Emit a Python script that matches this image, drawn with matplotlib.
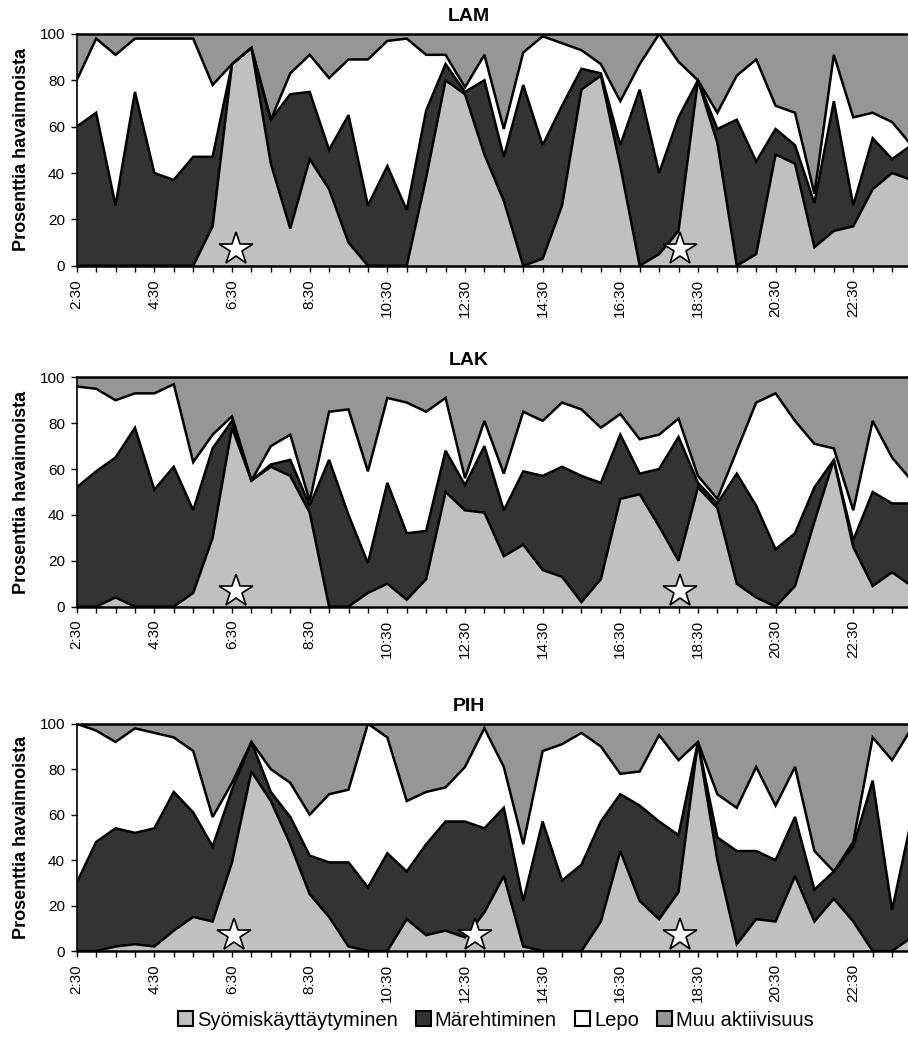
import numpy as np
import matplotlib.pyplot as plt
from matplotlib.patches import Patch

plt.rcParams['font.family'] = ['Liberation Sans', 'DejaVu Sans']

# -- data --
# half-hour categories, the last one is only partly visible at the right edge
times = ["2:30", "3:00", "3:30", "4:00", "4:30", "5:00", "5:30", "6:00",
         "6:30", "7:00", "7:30", "8:00", "8:30", "9:00", "9:30", "10:00",
         "10:30", "11:00", "11:30", "12:00", "12:30", "13:00", "13:30", "14:00",
         "14:30", "15:00", "15:30", "16:00", "16:30", "17:00", "17:30", "18:00",
         "18:30", "19:00", "19:30", "20:00", "20:30", "21:00", "21:30", "22:00",
         "22:30", "23:00", "23:30", "24:00"]

series_names = ["Syömiskäyttäytyminen", "Märehtiminen", "Lepo", "Muu aktiivisuus"]

# cumulative upper edges (%): syo, syo+mar, syo+mar+lepo ; muu fills up to 100
lam_syo = [0, 0, 0, 0, 0, 0, 0, 17, 87, 94, 44, 16, 46, 33, 10, 0, 0, 0, 38, 80,
           74, 48, 28, 0, 3, 26, 76, 82, 43, 0, 5, 15, 80, 53, 0, 5, 48, 44, 8, 15,
           17, 33, 40, 37]
lam_mar = [60, 66, 26, 75, 40, 37, 47, 47, 87, 94, 63, 74, 75, 50, 65, 26, 43, 24, 67, 87,
           75, 80, 47, 78, 52, 69, 85, 83, 52, 76, 40, 64, 80, 59, 63, 45, 59, 52, 27, 71,
           26, 55, 46, 52]
lam_lepo = [80, 98, 91, 98, 98, 98, 98, 78, 87, 94, 63, 83, 91, 81, 89, 89, 97, 98, 91, 91,
            77, 91, 59, 92, 99, 96, 93, 87, 71, 87, 100, 88, 80, 66, 82, 89, 69, 66, 31, 91,
            64, 66, 62, 52]

lak_syo = [0, 0, 4, 0, 0, 0, 6, 30, 78, 55, 61, 57, 41, 0, 0, 6, 10, 3, 12, 50,
           42, 41, 22, 27, 16, 13, 2, 12, 47, 49, 35, 20, 52, 43, 10, 4, 0, 9, 37, 64,
           26, 9, 15, 9]
lak_mar = [52, 59, 65, 78, 51, 61, 42, 69, 81, 55, 62, 64, 44, 64, 40, 19, 54, 32, 33, 68,
           53, 70, 42, 59, 57, 61, 57, 54, 75, 58, 60, 74, 54, 45, 58, 44, 25, 32, 52, 64,
           29, 50, 45, 45]
lak_lepo = [96, 95, 90, 93, 93, 97, 63, 75, 83, 55, 70, 75, 46, 85, 86, 59, 91, 89, 85, 91,
            56, 81, 58, 85, 81, 89, 86, 78, 84, 73, 75, 82, 57, 47, 68, 89, 93, 81, 71, 69,
            42, 81, 65, 55]

pih_syo = [0, 0, 2, 3, 2, 9, 15, 13, 39, 79, 66, 47, 25, 15, 2, 0, 0, 14, 7, 9,
           6, 17, 33, 2, 0, 0, 0, 13, 44, 22, 14, 26, 92, 40, 3, 14, 13, 33, 13, 23,
           13, 0, 0, 6]
pih_mar = [30, 48, 54, 52, 54, 70, 61, 46, 71, 92, 70, 59, 42, 39, 39, 28, 43, 35, 47, 57,
           57, 54, 63, 22, 57, 31, 38, 57, 69, 64, 57, 51, 92, 50, 44, 44, 40, 59, 27, 35,
           46, 75, 18, 58]
pih_lepo = [100, 97, 92, 98, 96, 94, 88, 59, 74, 92, 80, 74, 60, 69, 71, 100, 94, 66, 70, 72,
            81, 98, 81, 47, 88, 91, 96, 90, 78, 79, 95, 84, 92, 69, 63, 81, 64, 81, 44, 35,
            48, 94, 84, 98]

# star markers, position in category units
lam_stars = [8.2, 31.1]
lak_stars = [8.2, 31.1]
pih_stars = [8.1, 20.5, 31.1]

colors = ["#C0C0C0", "#333333", "#FFFFFF", "#969696"]

charts = [
    ("LAM", lam_syo, lam_mar, lam_lepo, lam_stars, [0.0845, 0.745, 0.9155, 0.2224]),
    ("LAK", lak_syo, lak_mar, lak_lepo, lak_stars, [0.0845, 0.4178, 0.9155, 0.2201]),
    ("PIH", pih_syo, pih_mar, pih_lepo, pih_stars, [0.0845, 0.0873, 0.9155, 0.2181]),
]

fig = plt.figure(figsize=(9.08, 10.42), dpi=100)
x = np.arange(len(times))
lw = 1.8

for title, syo, mar, lepo, stars, rect in charts:
    ax = fig.add_axes(rect)
    levels = [np.zeros(len(x)), np.array(syo), np.array(mar), np.array(lepo), np.full(len(x), 100)]
    for k in range(4):
        ax.fill_between(x, levels[k], levels[k + 1], color=colors[k], lw=0)
    for k in range(1, 4):
        ax.plot(x, levels[k], color="black", lw=lw, solid_joinstyle="miter")
    ax.axhline(100, color="black", lw=lw, clip_on=False)

    ax.plot(stars, [7] * len(stars), ls="none", marker="*", markersize=25,
            markerfacecolor="white", markeredgecolor="black", markeredgewidth=1.2, zorder=5)

    ax.set_xlim(0, 42.82)
    ax.set_ylim(0, 100)
    ax.set_xticks(x[:43])
    ax.set_xticklabels([t if i % 4 == 0 else "" for i, t in enumerate(times[:43])], rotation=90)
    ax.set_yticks([0, 20, 40, 60, 80, 100])
    ax.tick_params(axis="x", length=4.5, width=1, pad=5, labelsize=11)
    ax.tick_params(axis="y", length=4.5, width=1, pad=4, labelsize=11)
    ax.spines["top"].set_visible(False)
    ax.spines["right"].set_visible(False)
    ax.spines["left"].set_linewidth(1.2)
    ax.spines["bottom"].set_linewidth(lw)
    ax.spines["bottom"].set_zorder(6)
    ax.set_ylabel("Prosenttia havainnoista", fontsize=13, fontweight="bold", labelpad=7)
    ax.set_title(title, fontsize=14, fontweight="bold", x=0.472, pad=9)

handles = [Patch(facecolor=c, edgecolor="black", lw=1.5) for c in colors]
fig.legend(handles, series_names, loc="center", bbox_to_anchor=(0.546, 0.021), ncol=4,
           frameon=False, fontsize=14.5, handlelength=0.75, handleheight=0.75,
           handletextpad=0.2, columnspacing=0.9)

fig.savefig("out.png", dpi=100)
